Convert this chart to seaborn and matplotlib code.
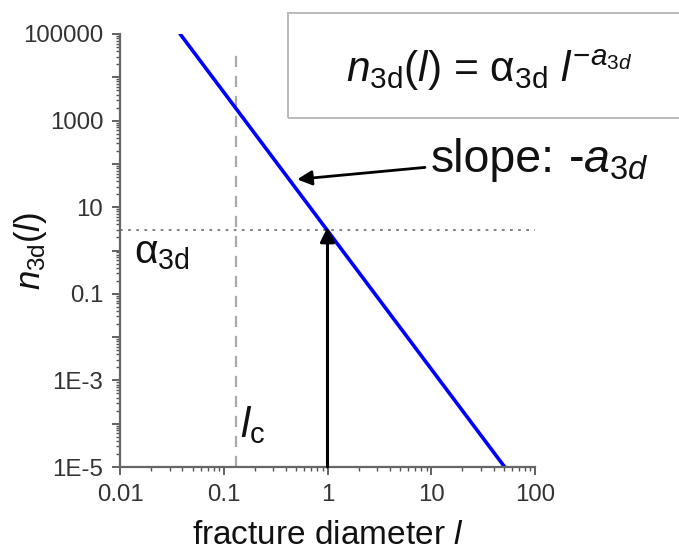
import numpy as np
import pandas as pd
import matplotlib
matplotlib.use("Agg")
import matplotlib.pyplot as plt
from matplotlib.patches import Rectangle
from matplotlib.ticker import FixedLocator, LogLocator, NullFormatter
import seaborn as sns

# ---- data ----
fracture_diameter = [0.038, 51.0]          # l, ends of the power-law line
n3d_values = [1.0e5, 1.0e-5]               # n_3d(l) at those ends
alpha_3d = 3.0                             # intercept at l = 1
l_c = 0.13                                 # cut-off diameter
x_ticks = [0.01, 0.1, 1, 10, 100]
x_tick_labels = ["0.01", "0.1", "1", "10", "100"]
y_ticks = [1e-5, 1e-4, 1e-3, 1e-2, 1e-1, 1, 10, 100, 1000, 1e4, 1e5]
y_tick_labels = ["1E-5", "", "1E-3", "", "0.1", "", "10", "", "1000", "", "100000"]
slope_arrow_tip = (0.51, 44.0)
slope_arrow_tail = (8.7, 83.0)

df = pd.DataFrame({"l": fracture_diameter, "n": n3d_values})

sns.set_theme(style="ticks")
plt.rcParams["font.family"] = ["Liberation Sans", "DejaVu Sans"]
plt.rcParams["mathtext.fontset"] = "custom"
plt.rcParams["mathtext.rm"] = "Liberation Sans"
plt.rcParams["mathtext.it"] = "Liberation Sans:italic"
plt.rcParams["mathtext.bf"] = "Liberation Sans:bold"

W, H = 679, 552
fig = plt.figure(figsize=(W / 100, H / 100), dpi=100)
renderer = fig.canvas.get_renderer()

def fx(px):
    return px / W

def fy(py):
    return 1 - py / H

def fit_width(txt, target_px):
    bb = txt.get_window_extent(renderer)
    txt.set_fontsize(txt.get_fontsize() * target_px / bb.width)
    return txt.get_fontsize()

ax = fig.add_axes([fx(120), fy(467), fx(535) - fx(120), fy(34) - fy(467)])

sns.lineplot(data=df, x="l", y="n", ax=ax, color="#0000ff", linewidth=2.6)
ax.set_xscale("log")
ax.set_yscale("log")
ax.set_xlim(0.01, 100)
ax.set_ylim(1e-5, 1e5)

# reference lines
ax.axhline(alpha_3d, color="#777777", linestyle=(0, (1.5, 3)), linewidth=1.3, zorder=1)
ax.plot([l_c, l_c], [1e-5, 3.5e4], color="#aaaaaa", linestyle=(0, (5, 4)), linewidth=1.6, zorder=1)

# arrows
ax.annotate("", xy=(1, alpha_3d * 1.15), xytext=(1, 1e-5),
            arrowprops=dict(arrowstyle="-|>", color="black", lw=2.2,
                            mutation_scale=22, shrinkA=0, shrinkB=0))
ax.annotate("", xy=slope_arrow_tip, xytext=slope_arrow_tail,
            arrowprops=dict(arrowstyle="-|>", color="black", lw=2.0,
                            mutation_scale=22, shrinkA=0, shrinkB=0))

# tick label size fitted so "100000" is ~78 px wide
probe = fig.text(0, 0, "100000", fontsize=17)
tick_fs = fit_width(probe, 80)
probe.remove()

ax.xaxis.set_major_locator(FixedLocator(x_ticks))
ax.set_xticklabels(x_tick_labels)
ax.xaxis.set_minor_locator(LogLocator(base=10, subs=np.arange(2, 10)))
ax.xaxis.set_minor_formatter(NullFormatter())
ax.yaxis.set_major_locator(FixedLocator(y_ticks))
ax.set_yticklabels(y_tick_labels)
ax.yaxis.set_minor_locator(LogLocator(base=10, subs=np.arange(2, 10), numticks=30))
ax.yaxis.set_minor_formatter(NullFormatter())
ax.tick_params(axis="both", which="major", direction="out", length=6, width=1.3,
               color="#555555", labelsize=tick_fs, labelcolor="#333333", pad=6)
ax.tick_params(axis="both", which="minor", direction="out", length=3, width=1.0,
               color="#555555")

for side in ["top", "right"]:
    ax.spines[side].set_visible(False)
for side in ["left", "bottom"]:
    ax.spines[side].set_color("#666666")
    ax.spines[side].set_linewidth(1.6)

ax.set_xlabel(r"fracture diameter $l$", fontsize=24, color="#111111", labelpad=10)
ax.set_ylabel(r"$n_{\mathrm{3d}}(l)$", fontsize=25, color="#111111")
ax.yaxis.set_label_coords(-0.17, 0.5)

# in-axes annotations
t_alpha = fig.text(fx(134), fy(263), r"$\mathrm{α}_{\mathrm{3d}}$", fontsize=26,
                   color="#111111", va="baseline", ha="left")
fit_width(t_alpha, 56)
fig.text(fx(240), fy(437), r"$l_{\mathrm{c}}$", fontsize=30, color="#111111",
         va="baseline", ha="left")
t_slope = fig.text(fx(431), fy(172), "slope:", fontsize=28, color="#111111",
                   va="baseline", ha="left")
fit_width(t_slope, 124)
t_slope2 = fig.text(fx(568), fy(172), r"-$a_{3d}$", fontsize=t_slope.get_fontsize(),
                    color="#111111", va="baseline", ha="left")

# equation box
fig.patches.append(Rectangle((fx(288), fy(118)), 1.0 - fx(288) + 0.01, fy(13) - fy(118),
                             transform=fig.transFigure, fill=False,
                             edgecolor="#bbbbbb", linewidth=1.4, clip_on=False))
t_eq = fig.text(fx(489), fy(82), r"$n_{\mathrm{3d}}(l)$ = $\mathrm{α}_{\mathrm{3d}}$ $l^{-a_{3d}}$",
                fontsize=28, color="#111111", va="baseline", ha="center")
fit_width(t_eq, 286)

fig.savefig("out.png", dpi=100)
